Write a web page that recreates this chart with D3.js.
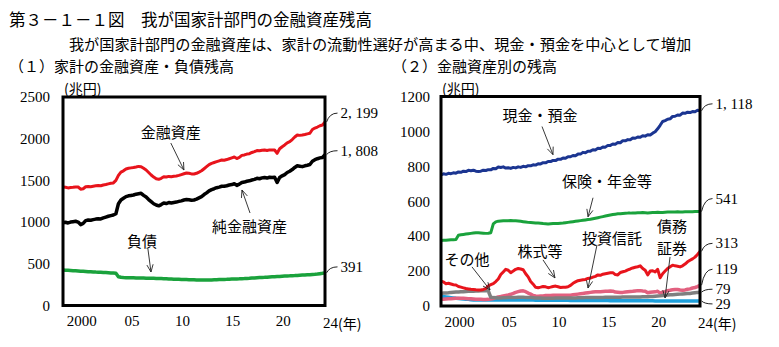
<!DOCTYPE html>
<html><head><meta charset="utf-8">
<script src="https://cdn.jsdelivr.net/npm/d3@7"></script>
<style>
html,body{margin:0;padding:0;background:#fff;}
svg{display:block;}
</style></head>
<body>
<svg id="chart" width="779" height="347"></svg>
<script>
// ---------- DATA (quarterly, 1998Q1 .. 2024Q1, 兆円) ----------
const startYear = 1998;
const tickYears = [2000, 2005, 2010, 2015, 2020];
const tickLabels = ["2000", "05", "10", "15", "20"];
const lastTickLabel = "24";
const leftYTicks = [0, 500, 1000, 1500, 2000, 2500];
const rightYTicks = [0, 200, 400, 600, 800, 1000, 1200];

const totalAssets = [
 1421,1418,1410,1415, 1417,1422,1421,1395, 1400,1424,1428,1425, 1430,1435,1439,1436,
 1445,1450,1458,1465, 1470,1500,1560,1600, 1615,1637,1645,1650, 1655,1661,1668,1664,
 1645,1625,1595,1565, 1540,1520,1513,1525, 1544,1540,1548,1545, 1550,1553,1560,1570,
 1580,1589,1585,1578, 1577,1585,1600,1616, 1640,1665,1690,1705, 1715,1725,1735,1745,
 1742,1750,1760,1770, 1780,1762,1775,1800, 1805,1816,1820,1835, 1845,1858,1855,1862,
 1864,1858,1866,1864, 1864,1825,1880,1904, 1925,1950,1964,1990, 2020,2044,2040,2044,
 2050,2058,2065,2110, 2128,2140,2155,2164, 2199];
const netAssets = [
 993,998,990,1000, 1005,1010,1000,970, 985,1018,1025,1022, 1030,1036,1040,1038,
 1050,1060,1070,1078, 1085,1100,1220,1265, 1285,1305,1315,1320, 1325,1335,1340,1345,
 1320,1300,1270,1245, 1220,1205,1195,1210, 1228,1222,1235,1230, 1236,1240,1248,1255,
 1265,1270,1268,1262, 1265,1275,1290,1305, 1330,1350,1375,1390, 1400,1412,1420,1430,
 1430,1436,1445,1450, 1460,1440,1455,1475, 1480,1490,1495,1505, 1512,1525,1520,1530,
 1535,1528,1538,1535, 1538,1475,1535,1555, 1570,1595,1610,1630, 1655,1675,1670,1665,
 1675,1682,1690,1730, 1748,1760,1770,1775, 1808];
const liabilities = [
 426,424,422,420, 418,416,414,412, 410,408,406,405, 403,401,400,398,
 396,395,393,391, 389,386,345,338, 335,334,333,332, 332,331,330,330,
 329,328,328,327, 326,325,324,323, 322,320,318,317, 316,315,314,313,
 312,311,310,309, 308,307,306,306, 305,305,306,307, 308,309,311,312,
 313,314,316,317, 318,319,320,322, 323,325,327,330, 331,333,335,337,
 338,340,342,344, 345,347,349,352, 354,355,356,358, 359,361,363,365,
 366,368,370,373, 375,378,382,386, 391];

const cashDeposits = [
 752,757,754,760, 758,763,761,768, 766,772,770,777, 775,778,772,771,
 772,778,776,781, 780,788,786,796, 793,797,790,792, 788,794,791,797,
 794,800,797,804, 803,809,807,815, 814,821,820,828, 827,834,833,841,
 840,848,846,855, 855,862,861,870, 870,880,878,887, 887,895,894,903,
 902,911,910,920, 920,928,927,936, 935,947,946,953, 952,962,961,968,
 966,975,973,981, 980,990,998,1015, 1035,1057,1062,1070, 1072,1086,1087,1094,
 1093,1105,1104,1110, 1108,1114,1113,1121, 1118];
const insurancePension = [
 375,376,377,378, 379,380,381,405, 408,410,412,414, 416,418,420,419,
 418,417,416,417, 420,470,482,486, 487,488,489,489, 490,489,488,487,
 485,483,481,479, 478,477,476,475, 474,472,471,470, 471,472,472,473,
 474,475,477,479, 481,483,485,487, 489,491,493,495, 497,500,503,506,
 509,512,515,518, 521,524,526,528, 529,530,531,532, 532,533,533,534,
 534,535,534,533, 534,535,536,537, 535,536,537,538, 538,539,539,540,
 539,539,540,540, 540,540,541,541, 541];
const equities = [
 142,138,128,130, 126,122,120,112, 108,104,100,98, 96,95,93,92,
 92,95,100,115, 122,128,140,155, 180,195,210,205, 191,200,210,215,
 212,208,185,167, 140,125,107,105, 108,112,110,105, 108,112,114,110,
 106,108,107,110, 118,130,138,145, 148,150,152,158, 160,165,170,178,
 176,182,185,188, 190,191,180,178, 192,196,200,207, 212,218,222,225,
 230,215,205,178, 200,202,195,210, 162,185,200,215, 225,234,230,228,
 224,230,240,253, 262,270,280,295, 313];
const investmentTrusts = [
 38,39,40,41, 42,43,44,45, 45,44,43,42, 41,40,39,38,
 38,37,37,38, 40,43,48,52, 54,57,60,63, 67,72,78,82,
 86,87,82,74, 68,60,57,56, 57,58,60,60, 60,61,61,62,
 61,62,62,61, 62,64,66,68, 70,72,74,76, 78,80,81,82,
 82,83,84,85, 86,85,80,79, 78,78,80,82, 83,84,86,88,
 88,86,85,76, 79,80,81,84, 74,80,82,88, 90,93,94,95,
 92,90,92,96, 98,103,106,111, 119];
const otherAssets = [
 72,74,75,76, 78,79,80,80, 81,82,83,84, 84,85,86,86,
 87,88,88,86, 50,48,47,46, 46,47,47,48, 48,49,49,50,
 50,50,49,48, 48,47,46,46, 46,45,45,45, 45,45,46,46,
 46,46,46,46, 46,46,46,47, 47,47,48,48, 48,48,49,49,
 49,49,50,50, 50,50,50,50, 50,51,51,51, 51,52,52,52,
 52,53,53,53, 54,55,56,57, 58,60,62,63, 64,65,66,67,
 68,69,70,71, 72,74,76,78, 79];
const debtSecurities = [
 56,54,52,50, 48,46,44,43, 42,40,39,38, 36,35,35,34,
 34,34,34,34, 34,34,34,34, 34,34,34,34, 34,34,34,34,
 34,34,34,34, 34,34,33,33, 33,33,33,33, 33,33,33,33,
 33,33,33,33, 32,32,32,32, 32,32,31,31, 31,31,31,31,
 31,31,31,31, 30,30,30,30, 30,30,30,30, 30,30,30,30,
 30,30,30,30, 30,30,29,29, 29,29,29,29, 29,29,29,29,
 29,29,29,29, 29,29,29,29, 29];

// ---------- helpers ----------
const svg = d3.select("#chart");
const JP = "'Noto Sans CJK JP', 'Noto Sans', sans-serif";
const SERIF = "'Liberation Serif', 'Times New Roman', serif";
const tOf = i => startYear + i / 4;

function txt(sel, x, y, s, fam, size, anchor) {
  return sel.append("text").attr("x", x).attr("y", y).attr("dominant-baseline", "central")
    .attr("text-anchor", anchor || "start").style("font-family", fam).style("font-size", size + "px")
    .attr("fill", "#000").text(s);
}

// titles
txt(svg, 9, 19, "第３－１－１図　我が国家計部門の金融資産残高", JP, 16.5);
txt(svg, 380, 43, "我が国家計部門の金融資産は、家計の流動性選好が高まる中、現金・預金を中心として増加", JP, 15.2, "middle");
txt(svg, 9, 65, "（１）家計の金融資産・負債残高", JP, 15);
txt(svg, 392, 65, "（２）金融資産別の残高", JP, 15);

function panel(cfg) {
  const x = d3.scaleLinear().domain([startYear, 2024]).range([cfg.x0, cfg.x1]);
  const y = d3.scaleLinear().domain([0, cfg.ymax]).range([cfg.y1, cfg.y0]);
  const g = svg.append("g");

  // y axis labels
  const yAxis = d3.axisLeft(y).tickValues(cfg.yTicks).tickFormat(d3.format("d")).tickSize(0).tickPadding(cfg.yPad);
  const ya = g.append("g").attr("transform", `translate(${cfg.x0},0)`).call(yAxis);
  ya.select(".domain").remove();
  ya.attr("font-family", null).attr("font-size", null);
  ya.selectAll("text").style("font-family", SERIF).style("font-size", "15px").attr("fill", "#000");

  // x axis labels
  const xAxis = d3.axisBottom(x).tickValues(tickYears).tickFormat((d, i) => tickLabels[i]).tickSize(0).tickPadding(10);
  const xa = g.append("g").attr("transform", `translate(${-2},${cfg.y1})`).call(xAxis);
  xa.select(".domain").remove();
  xa.attr("font-family", null).attr("font-size", null);
  xa.selectAll("text").style("font-family", SERIF).style("font-size", "15px").attr("fill", "#000");
  const last = txt(g, x(2024) - 2, cfg.y1 + 17, lastTickLabel, SERIF, 15);
  last.append("tspan").style("font-family", JP).style("font-size", "14px").text("(年)");

  // unit
  txt(g, cfg.x0 + 1, cfg.y0 - 9, "(兆円)", JP, 14);

  // series
  const line = d3.line().x((d, i) => x(tOf(i))).y(d => y(d)).curve(d3.curveLinear);
  cfg.series.forEach(s => {
    g.append("path").datum(s.values).attr("d", line).attr("fill", "none")
      .attr("stroke", s.color).attr("stroke-width", s.width).attr("stroke-linejoin", "round");
  });

  // frame
  g.append("rect").attr("x", cfg.x0).attr("y", cfg.y0).attr("width", cfg.x1 - cfg.x0).attr("height", cfg.y1 - cfg.y0)
    .attr("fill", "none").attr("stroke", "#000").attr("stroke-width", 3);

  // end labels
  cfg.series.filter(s => s.endLabel).forEach(s => {
    const v = s.values[s.values.length - 1];
    const px = cfg.x1 + 1.5, py = y(v), ly = py + s.dy;
    g.append("path").attr("d", `M${px},${py} Q${px + 3},${ly} ${px + 11},${ly}`)
      .attr("fill", "none").attr("stroke", "#222").attr("stroke-width", 1);
    txt(g, px + 14, ly, s.endLabel, SERIF, 15);
  });

  // annotations
  cfg.notes.forEach(n => {
    n.lines.forEach((ln, k) => txt(g, x(n.t), y(n.v) + k * 22, ln, JP, 15, "middle"));
    const ax1 = x(n.a[0]), ay1 = y(n.a[1]), ax2 = x(n.a[2]), ay2 = y(n.a[3]);
    g.append("line").attr("x1", ax1).attr("y1", ay1).attr("x2", ax2).attr("y2", ay2)
      .attr("stroke", "#222").attr("stroke-width", 0.9);
    const ang = Math.atan2(ay2 - ay1, ax2 - ax1), L = 8, sp = 0.4;
    g.append("path").attr("d",
      `M${ax2 - L * Math.cos(ang - sp)},${ay2 - L * Math.sin(ang - sp)} L${ax2},${ay2} L${ax2 - L * Math.cos(ang + sp)},${ay2 - L * Math.sin(ang + sp)}`)
      .attr("fill", "none").attr("stroke", "#222").attr("stroke-width", 0.9);
  });
}

panel({
  x0: 63, x1: 325, y0: 97, y1: 305.5, ymax: 2500, yTicks: leftYTicks, yPad: 13,
  series: [
    { values: liabilities, color: "#1aa23c", width: 3.5, endLabel: "391", dy: -6 },
    { values: netAssets, color: "#000000", width: 3.5, endLabel: "1, 808", dy: -4 },
    { values: totalAssets, color: "#e8141c", width: 3, endLabel: "2, 199", dy: -9 }
  ],
  notes: [
    { lines: ["金融資産"], t: 2008.7, v: 2092, a: [2008.7, 1948, 2010.0, 1625] },
    { lines: ["純金融資産"], t: 2016.5, v: 965, a: [2016.56, 1109, 2015.76, 1385] },
    { lines: ["負債"], t: 2005.85, v: 785, a: [2006.43, 677, 2006.73, 402] }
  ]
});

panel({
  x0: 441, x1: 700, y0: 96.5, y1: 306, ymax: 1200, yTicks: rightYTicks, yPad: 11,
  series: [
    { values: debtSecurities, color: "#1ea0dc", width: 3.5, endLabel: "29", dy: 3 },
    { values: investmentTrusts, color: "#e2607f", width: 3.5, endLabel: "119", dy: -16 },
    { values: otherAssets, color: "#7f7f7f", width: 3.5, endLabel: "79", dy: -3 },
    { values: equities, color: "#e8141c", width: 3, endLabel: "313", dy: -8 },
    { values: insurancePension, color: "#1aa23c", width: 3, endLabel: "541", dy: -13 },
    { values: cashDeposits, color: "#1b3591", width: 3, endLabel: "1, 118", dy: -7 }
  ],
  notes: [
    { lines: ["現金・預金"], t: 2007.94, v: 1097, a: [2008.14, 1028, 2009.24, 867] },
    { lines: ["保険・年金等"], t: 2014.66, v: 718, a: [2013.26, 620, 2012.76, 511] },
    { lines: ["その他"], t: 2000.6, v: 270, a: [2001.11, 224, 2002.92, 92] },
    { lines: ["株式等"], t: 2007.94, v: 316, a: [2008.24, 264, 2009.44, 161] },
    { lines: ["投資信託"], t: 2015.17, v: 390, a: [2013.66, 350, 2012.76, 103] },
    { lines: ["債務", "証券"], t: 2021.19, v: 459, a: [2020.99, 281, 2020.49, 46] }
  ]
});
</script>
</body></html>
